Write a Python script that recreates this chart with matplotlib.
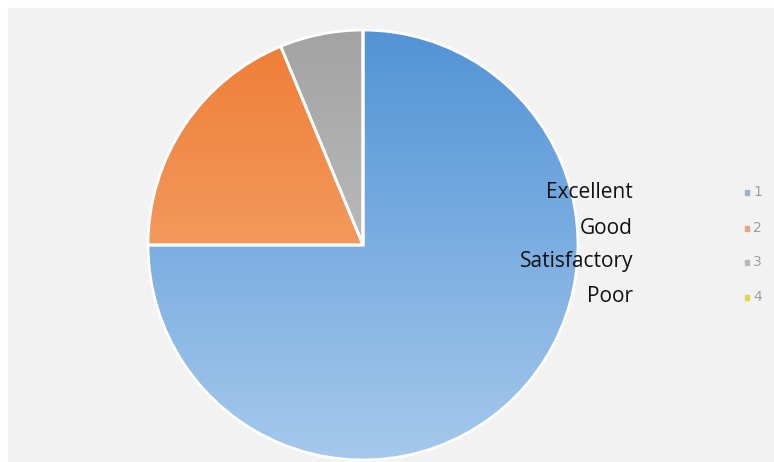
import numpy as np
import matplotlib.pyplot as plt
from matplotlib.colors import LinearSegmentedColormap

# survey answers
categories = ['Excellent', 'Good', 'Satisfactory', 'Poor']
legend_keys = ['1', '2', '3', '4']
counts = [36, 9, 3, 0]

top_colors = ['#5293d6', '#ef7d34', '#a3a3a3', '#ffc000']
bottom_colors = ['#a5c9ec', '#f6b487', '#cfcfcf', '#ffe08a']
key_colors = ['#9fb3c8', '#e9a27a', '#b8b8b8', '#e3d44a']

W, H = 774, 462
fig = plt.figure(figsize=(W / 100, H / 100), dpi=100)
fig.patch.set_facecolor('white')
ax = fig.add_axes([0, 0, 1, 1])

# gray chart area
ax.add_patch(plt.Rectangle((8, 0), W - 8, H - 8, color='#f2f2f2', zorder=0))

cx, cy, r = 363, H - 245, 215
wedges, _ = ax.pie(counts, startangle=90, counterclock=False, center=(cx, cy),
                   radius=r, wedgeprops=dict(edgecolor='white', linewidth=2),
                   frame=True)
ax.set_xlim(0, W)
ax.set_ylim(0, H)
ax.set_aspect('equal')
ax.axis('off')

# vertical gradient fill, clipped to each wedge
for w, c0, c1 in zip(wedges, top_colors, bottom_colors):
    cmap = LinearSegmentedColormap.from_list('g', [c1, c0])
    grad = np.linspace(0, 1, 256).reshape(-1, 1)
    im = ax.imshow(grad, cmap=cmap, origin='lower', aspect='auto',
                   extent=(cx - r, cx + r, cy - r, cy + r), zorder=1)
    im.set_clip_path(w)
    w.set_facecolor('none')
    w.set_zorder(2)

ys = [H - 192, H - 228, H - 262, H - 297]
for name, key, kc, y in zip(categories, legend_keys, key_colors, ys):
    ax.text(633, y, name, ha='right', va='center', fontsize=15,
            family='Open Sans', color='#111111', zorder=5)
    ax.add_patch(plt.Rectangle((745, y - 2.5), 4, 5, color=kc, zorder=5))
    ax.text(753, y, key, ha='left', va='center', fontsize=10,
            color='#a0a0a0', zorder=5)

fig.savefig('out.png', dpi=100)
